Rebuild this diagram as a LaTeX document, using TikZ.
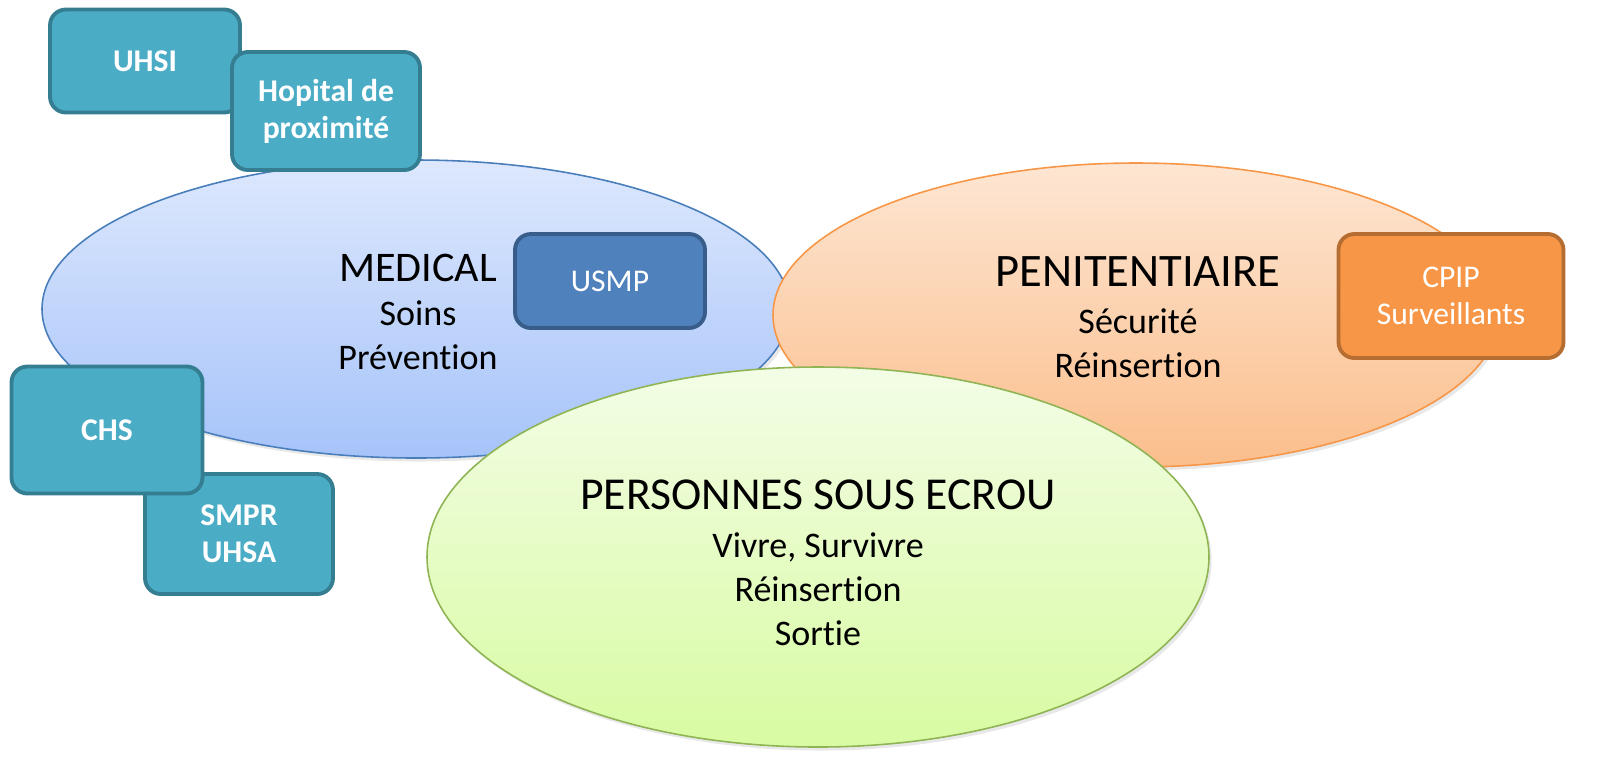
\documentclass[tikz,border=0pt]{standalone}
\usepackage{fontspec}
\setmainfont{Carlito}[Ligatures=NoCommon]
\usepackage{tikz}
\usetikzlibrary{shadows}

\definecolor{medtop}{HTML}{DDE8FD}
\definecolor{medbot}{HTML}{A6C3F9}
\definecolor{medline}{HTML}{4A7EBB}
\definecolor{pentop}{HTML}{FDE6D3}
\definecolor{penbot}{HTML}{FBBE8C}
\definecolor{penline}{HTML}{F79646}
\definecolor{perstop}{HTML}{F3FDE6}
\definecolor{persbot}{HTML}{D8FBA2}
\definecolor{persline}{HTML}{8EB454}
\definecolor{tealfill}{HTML}{4BACC6}
\definecolor{tealline}{HTML}{357D91}
\definecolor{usmpfill}{HTML}{4F81BD}
\definecolor{usmpline}{HTML}{385D8A}
\definecolor{cpipfill}{HTML}{F79646}
\definecolor{cpipline}{HTML}{B66D31}

\tikzset{
  zone/.style={line width=0.9pt, drop shadow={opacity=0.18, shadow xshift=1.5pt, shadow yshift=-2pt}},
  box/.style={line width=2.2pt, rounded corners=9pt, text=white, align=center,
    minimum width=3.8cm, inner sep=2pt},
  tealbox/.style={box, draw=tealline, fill=tealfill, font=\fontsize{18}{21}\selectfont\bfseries},
  title/.style={font=\fontsize{24}{28}\selectfont},
  subtext/.style={align=center, font=\fontsize{20.5}{25}\selectfont}
}

\begin{document}
\begin{tikzpicture}[x=0.02cm, y=-0.02cm]
    \useasboundingbox (0,0) rectangle (1608,769);

    % the three zones
    \path[zone, draw=medline, top color=medtop, bottom color=medbot]
      (416,309) ellipse [x radius=374, y radius=149];
    \path[zone, draw=penline, top color=pentop, bottom color=penbot]
      (1136,315) ellipse [x radius=363, y radius=152];
    \path[zone, draw=persline, top color=perstop, bottom color=persbot]
      (818,557) ellipse [x radius=391, y radius=190];

    % medical zone text
    \node[title] (medical) at (418,268) {MEDICAL};
    \node[subtext] (soins) at (418,335) {Soins\\Prévention};

    % penitentiary zone text
    \node[title, font=\fontsize{26.5}{30}\selectfont] (penit) at (1138,272) {PENITENTIAIRE};
    \node[subtext] (securite) at (1138,343) {Sécurité\\Réinsertion};

    % people zone text
    \node[title, font=\fontsize{26}{30}\selectfont] (personnes) at (818,495) {PERSONNES SOUS ECROU};
    \node[subtext] (vivre) at (818,589) {Vivre, Survivre\\Réinsertion\\Sortie};

    % hospital boxes on the upper left
    \node[tealbox, minimum height=2.06cm] (uhsi) at (145,61) {UHSI};
    \node[tealbox, minimum height=2.36cm, minimum width=3.76cm] (hopital) at (326,111) {Hopital de\\proximité};

    % psychiatric boxes on the lower left
    \node[tealbox, minimum height=2.4cm, minimum width=3.76cm] (smpr) at (239,534) {SMPR\\UHSA};
    \node[tealbox, minimum height=2.54cm, minimum width=3.82cm] (chs) at (107,430) {CHS};

    % unit inside the medical zone
    \node[box, draw=usmpline, fill=usmpfill, minimum height=1.88cm,
      font=\fontsize{18}{21}\selectfont] (usmp) at (610,281) {USMP};

    % staff box on the penitentiary zone
    \node[box, draw=cpipline, fill=cpipfill, minimum width=4.5cm, minimum height=2.48cm,
      font=\fontsize{18}{21}\selectfont] (cpip) at (1451,296) {CPIP\\Surveillants};

  \end{tikzpicture}
\end{document}
